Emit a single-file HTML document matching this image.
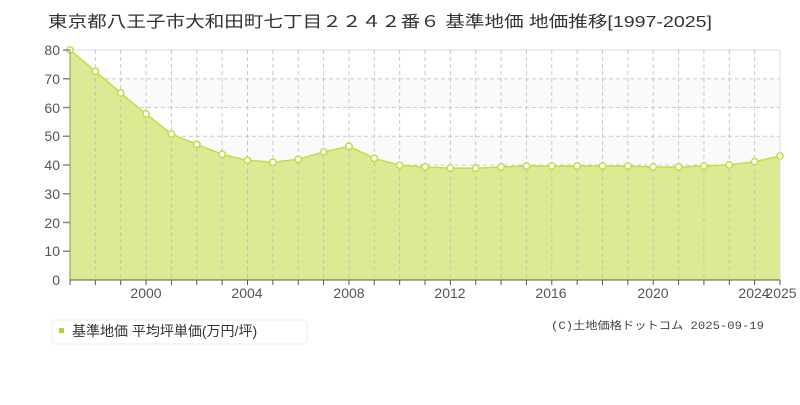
<!DOCTYPE html>
<html><head><meta charset="utf-8"><style>
body{margin:0;background:#fff;width:800px;height:400px;overflow:hidden;font-family:"Liberation Sans","Noto Sans CJK JP",sans-serif}
</style></head><body>
<svg width="800" height="400" xmlns="http://www.w3.org/2000/svg" font-family="Liberation Sans, Noto Sans CJK JP, sans-serif">
<text x="48" y="27" font-size="16" fill="#333" textLength="664" lengthAdjust="spacingAndGlyphs">東京都八王子市大和田町七丁目２２４２番６ 基準地価 地価推移[1997-2025]</text>
<rect x="70" y="50" width="710" height="230" fill="#fff"/>
<rect x="70" y="79" width="710" height="28.75" fill="#fbfafb"/>
<rect x="70" y="136.5" width="710" height="28.75" fill="#fbfafb"/>
<line x1="70" y1="50" x2="780" y2="50" stroke="#ddd" stroke-width="1"/>
<g stroke="#ccc" stroke-dasharray="4,3" stroke-width="1">
<line x1="70" y1="78.75" x2="780" y2="78.75"/><line x1="70" y1="107.5" x2="780" y2="107.5"/><line x1="70" y1="136.25" x2="780" y2="136.25"/><line x1="70" y1="165" x2="780" y2="165"/><line x1="70" y1="193.75" x2="780" y2="193.75"/><line x1="70" y1="222.5" x2="780" y2="222.5"/><line x1="70" y1="251.25" x2="780" y2="251.25"/>
</g>
<polygon id="area" fill="#dbeb93" stroke="none" points=""/>
<polyline id="ln" fill="none" stroke="#c2dd45" stroke-width="1.5" points=""/>
<g id="vg" stroke="#bbb" stroke-dasharray="4,3" stroke-width="1" opacity="0.8"></g>
<g id="pts"></g>
<line x1="70" y1="50" x2="70" y2="280" stroke="#8a9a40" stroke-width="1"/>
<line x1="780" y1="50" x2="780" y2="280" stroke="#ddd" stroke-width="1"/>
<line x1="70" y1="280" x2="780" y2="280" stroke="#555" stroke-width="1"/>
<g id="ticks" stroke="#555" stroke-width="1"></g>
<g font-size="14" fill="#555" text-anchor="end">
<text x="60" y="55">80</text><text x="60" y="84">70</text><text x="60" y="113">60</text><text x="60" y="141">50</text><text x="60" y="170">40</text><text x="60" y="199">30</text><text x="60" y="228">20</text><text x="60" y="256">10</text><text x="60" y="285">0</text>
</g>
<g stroke="#888" stroke-width="1.5">
<line x1="63" y1="50" x2="70" y2="50"/><line x1="63" y1="78.75" x2="70" y2="78.75"/><line x1="63" y1="107.5" x2="70" y2="107.5"/><line x1="63" y1="136.25" x2="70" y2="136.25"/><line x1="63" y1="165" x2="70" y2="165"/><line x1="63" y1="193.75" x2="70" y2="193.75"/><line x1="63" y1="222.5" x2="70" y2="222.5"/><line x1="63" y1="251.25" x2="70" y2="251.25"/>
</g>
<g font-size="14" fill="#555" text-anchor="middle">
<text x="146" y="298">2000</text><text x="247" y="298">2004</text><text x="349" y="298">2008</text><text x="450" y="298">2012</text><text x="551" y="298">2016</text><text x="653" y="298">2020</text><text x="754" y="298">2024</text><text x="781" y="298">2025</text>
</g>
<rect x="52" y="320" width="255" height="24" rx="4" fill="#fff" stroke="#eee"/>
<rect x="59" y="328" width="5" height="5" fill="#b5d334"/>
<text x="72" y="336" font-size="14" fill="#333">基準地価 平均坪単価(万円/坪)</text>
<text x="551" y="329" font-size="11" fill="#444" textLength="213" lengthAdjust="spacingAndGlyphs" font-family="Liberation Mono, Noto Sans CJK JP, monospace">(C)土地価格ドットコム 2025-09-19</text>
</svg>
<script>
var ys=[50,71.3,93,114,134,144.3,154.3,160.3,162.3,159.3,152,146.3,158.3,165.3,167,168,168.3,167,166,166,166,166,166,167,167,166,165,161.7,156];
var p=[];for(var i=0;i<ys.length;i++){p.push((70+i*710/28).toFixed(1)+","+ys[i]);}
document.getElementById('ln').setAttribute('points',p.join(' '));
document.getElementById('area').setAttribute('points',"70,280 "+p.join(' ')+" 780,280");
var ns="http://www.w3.org/2000/svg",vg=document.getElementById('vg'),pts=document.getElementById('pts'),tk=document.getElementById('ticks');
for(var i=0;i<ys.length;i++){var x=70+i*710/28;
if(i>0&&i<28){var l=document.createElementNS(ns,'line');l.setAttribute('x1',x);l.setAttribute('x2',x);l.setAttribute('y1',50);l.setAttribute('y2',280);vg.appendChild(l);}
var t=document.createElementNS(ns,'line');t.setAttribute('x1',x);t.setAttribute('x2',x);t.setAttribute('y1',280);t.setAttribute('y2',285);tk.appendChild(t);
var c=document.createElementNS(ns,'circle');c.setAttribute('cx',x);c.setAttribute('cy',ys[i]);c.setAttribute('r',3.2);c.setAttribute('fill','#fff');c.setAttribute('stroke','#c2dd45');c.setAttribute('stroke-width','1.5');pts.appendChild(c);}
</script>
</body></html>
